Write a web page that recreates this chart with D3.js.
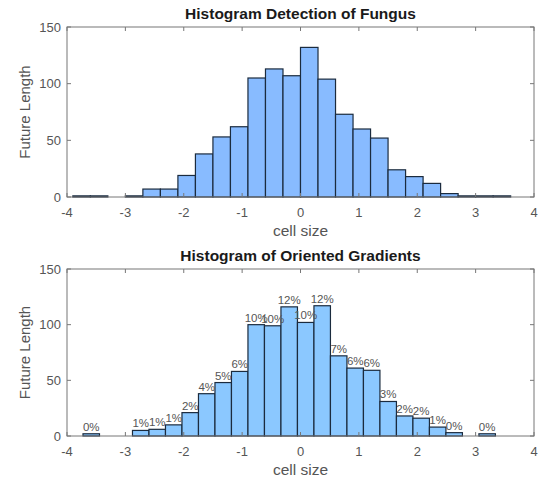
<!DOCTYPE html>
<html>
<head>
<meta charset="utf-8">
<script src="https://cdn.jsdelivr.net/npm/d3@7"></script>
<style>
  body { margin: 0; background: #fff; }
  text { font-family: "Liberation Sans", Arial, sans-serif; }
</style>
</head>
<body>
<div id="chart"></div>
<script>
// histogram 1: fixed bin edges start/width, counts per bin
const fungusStart = -3.9;
const fungusWidth = 0.3;
const fungusCounts = [1, 1, 0, 1, 7, 7, 19, 38, 53, 62, 105, 113, 107, 132, 104, 73, 60, 52, 24, 18, 12, 3, 1, 1, 1];

// histogram 2
const hogStart = -3.726;
const hogWidth = 0.2826;
const hogCounts = [2, 0, 0, 5, 6, 10, 21, 38, 48, 58, 100, 99, 116, 102, 117, 72, 61, 59, 31, 18, 16, 8, 3, 0, 2];

const xTicks = [-4, -3, -2, -1, 0, 1, 2, 3, 4];
const yTicks = [0, 50, 100, 150];
const titles = ["Histogram Detection of Fungus", "Histogram of Oriented Gradients"];

const W = 545, H = 482;
const svg = d3.select("#chart").append("svg").attr("width", W).attr("height", H);

const left = 67, right = 534;
const x = d3.scaleLinear().domain([-4, 4]).range([left, right]);

function panel(top, bottom, title, start, width, counts, fill, showPct) {
  const y = d3.scaleLinear().domain([0, 150]).range([bottom, top]);
  const g = svg.append("g");
  const bins = counts.map((c, i) => ({ x0: start + i * width, x1: start + (i + 1) * width, c }));
  const total = d3.sum(counts);

  g.selectAll("rect.bar")
    .data(bins)
    .enter()
    .append("rect")
    .attr("class", "bar")
    .attr("x", (d) => x(d.x0))
    .attr("width", (d) => x(d.x1) - x(d.x0))
    .attr("y", (d) => y(d.c))
    .attr("height", (d) => y(0) - y(d.c))
    .attr("fill", fill)
    .attr("stroke", "#1b2b3e")
    .attr("stroke-width", 1.2);

  if (showPct) {
    g.selectAll("text.pct")
      .data(bins.filter((d) => d.c > 0))
      .enter()
      .append("text")
      .attr("class", "pct")
      .attr("x", (d) => (x(d.x0) + x(d.x1)) / 2)
      .attr("y", (d) => y(d.c) - 3)
      .attr("text-anchor", "middle")
      .attr("fill", "#555")
      .style("font-size", "11.5px")
      .text((d) => Math.round((d.c / total) * 100) + "%");
  }

  // box
  g.append("rect")
    .attr("x", left)
    .attr("y", top)
    .attr("width", right - left)
    .attr("height", bottom - top)
    .attr("fill", "none")
    .attr("stroke", "#777")
    .attr("stroke-width", 1);

  // inward ticks on all four sides
  const tl = 4;
  xTicks.forEach((t) => {
    g.append("line").attr("x1", x(t)).attr("x2", x(t)).attr("y1", bottom).attr("y2", bottom - tl).attr("stroke", "#777");
    g.append("line").attr("x1", x(t)).attr("x2", x(t)).attr("y1", top).attr("y2", top + tl).attr("stroke", "#777");
  });
  yTicks.forEach((t) => {
    g.append("line").attr("x1", left).attr("x2", left + tl).attr("y1", y(t)).attr("y2", y(t)).attr("stroke", "#777");
    g.append("line").attr("x1", right).attr("x2", right - tl).attr("y1", y(t)).attr("y2", y(t)).attr("stroke", "#777");
  });

  g.selectAll("text.xt")
    .data(xTicks)
    .enter()
    .append("text")
    .attr("x", (d) => x(d))
    .attr("y", bottom + 20)
    .attr("text-anchor", "middle")
    .attr("fill", "#555")
    .style("font-size", "13px")
    .text((d) => d);

  g.selectAll("text.yt")
    .data(yTicks)
    .enter()
    .append("text")
    .attr("x", left - 6)
    .attr("y", (d) => y(d) + 4.5)
    .attr("text-anchor", "end")
    .attr("fill", "#555")
    .style("font-size", "13px")
    .text((d) => d);

  g.append("text")
    .attr("x", (left + right) / 2)
    .attr("y", bottom + 39)
    .attr("text-anchor", "middle")
    .attr("fill", "#555")
    .style("font-size", "15.5px")
    .text("cell size");

  g.append("text")
    .attr("transform", `translate(30,${(top + bottom) / 2}) rotate(-90)`)
    .attr("text-anchor", "middle")
    .attr("fill", "#555")
    .style("font-size", "15px")
    .text("Future Length");

  g.append("text")
    .attr("x", (left + right) / 2)
    .attr("y", top - 8)
    .attr("text-anchor", "middle")
    .attr("fill", "#1a1a1a")
    .style("font-size", "15.5px")
    .style("font-weight", "bold")
    .text(title);
}

panel(27, 197, titles[0], fungusStart, fungusWidth, fungusCounts, "#88bbff", false);
panel(269, 436, titles[1], hogStart, hogWidth, hogCounts, "#8bc8ff", true);
</script>
</body>
</html>
